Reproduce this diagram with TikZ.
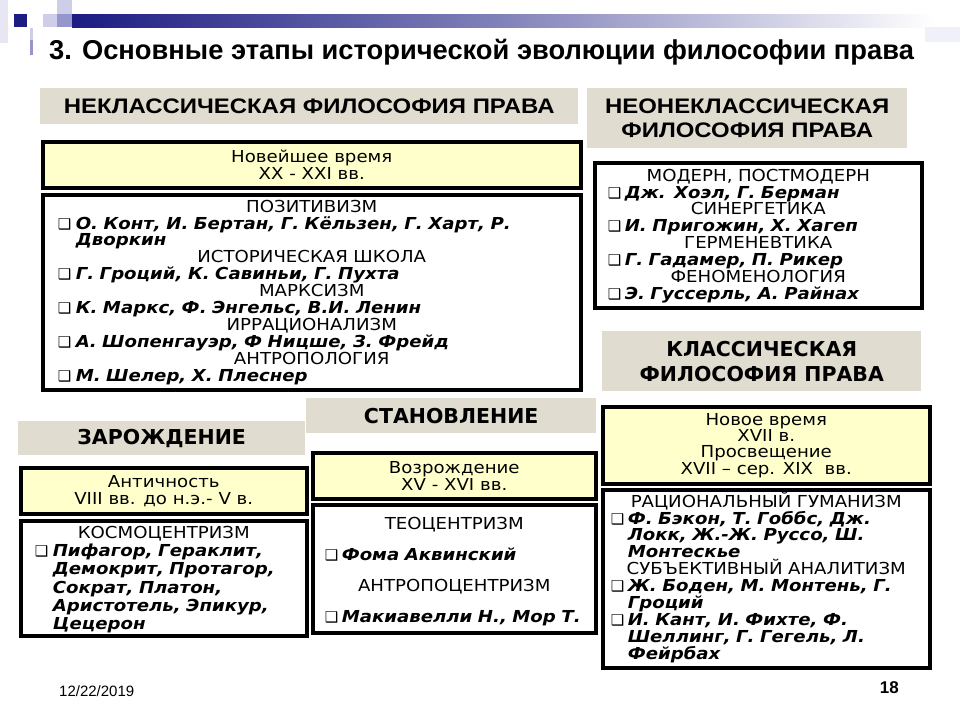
\documentclass[tikz,border=0pt]{standalone}
\usepackage{fontspec}
\setmainfont{DejaVu Sans}[FakeStretch=1.1]
\newfontfamily\arialfont{Liberation Sans}
\newfontfamily\headfont{Liberation Sans}[FakeStretch=1.14]
\newfontfamily\blackfont{DejaVu Sans}
\usetikzlibrary{positioning}
\definecolor{navy}{RGB}{28,28,130}
\definecolor{lavlight}{RGB}{206,206,232}
\definecolor{lavmid}{RGB}{150,150,204}
\definecolor{stone}{RGB}{224,220,208}
\definecolor{pale}{RGB}{255,255,204}
\newcommand\nl{\hfil\break}
\newcommand\bul{{\blackfont\fontsize{15}{13}\selectfont ❑}}
\newcommand\hdl[1]{\par{\centering\noindent #1\par}}
\newcommand\itm[2][18pt]{\par\hangindent=#1\hangafter=1\noindent\makebox[#1][l]{\bul}{\bfseries\itshape #2}\par}

\begin{document}
\begin{tikzpicture}[x=1pt,y=-1pt]
	\tikzstyle{every node}+=[inner sep=0pt]
	\tikzstyle{stonebox}=[fill=stone,anchor=north west,align=center,font=\headfont\bfseries\fontsize{21}{24}\selectfont]
	\tikzstyle{blackhead}=[stonebox,font=\blackfont\bfseries\fontsize{20.5}{25}\selectfont]
	\tikzstyle{yellowbox}=[draw,line width=3.5pt,fill=pale,anchor=north west,align=center,font=\fontsize{16.5}{17}\selectfont]
	\tikzstyle{listbox}=[draw,line width=3.5pt,fill=white,anchor=north west]
	\tikzstyle{listtext}=[anchor=north,align=left]
	\useasboundingbox (0,0) rectangle (960,720);
	\fill [lavlight!50] (0,0) rectangle (8,43);
	\fill [navy] (14,14) rectangle (27,27);
	\fill [lavlight] (43,14) rectangle (57,27);
	\fill [lavlight] (57,0) rectangle (72,14);
	\fill [lavmid] (57,14) rectangle (72,27);
	\fill [lavlight] (30,28) rectangle (33,40);
	\fill [lavmid] (30,40) rectangle (33,55);
	\shade [left color=navy,right color=white,middle color=navy!55!white] (72,14) rectangle (935,27);
	\fill [lavlight!30] (925,27) rectangle (960,42);
	\node [anchor=west,font=\arialfont\bfseries\fontsize{27.3}{30}\selectfont] (title) at (49,52) {3. Основные этапы исторической эволюции философии права};
	\node [stonebox,minimum width=538pt,minimum height=36pt] (neklHead) at (40,88) {НЕКЛАССИЧЕСКАЯ ФИЛОСОФИЯ ПРАВА};
	\node [stonebox,minimum width=320pt,minimum height=60pt] (neoHead) at (587,88) {НЕОНЕКЛАССИЧЕСКАЯ\\ФИЛОСОФИЯ ПРАВА};
	\node [yellowbox,minimum width=538pt,minimum height=46pt] (newYellow) at (41,140) {Новейшее время\\XX - XXI вв.};
	\node [listbox,minimum width=538pt,minimum height=195pt] (neklList) at (41,193) {};
	\node [listtext,text width=508pt,font=\fontsize{16.5}{16.9}\selectfont,below=2pt of neklList.north] (neklText) {%
		\hdl{ПОЗИТИВИЗМ}
		\itm{О. Конт, И. Бертан, Г. Кёльзен, Г. Харт, Р.\nl Дворкин}
		\hdl{ИСТОРИЧЕСКАЯ ШКОЛА}
		\itm{Г. Гроций, К. Савиньи, Г. Пухта}
		\hdl{МАРКСИЗМ}
		\itm{К. Маркс, Ф. Энгельс, В.И. Ленин}
		\hdl{ИРРАЦИОНАЛИЗМ}
		\itm{А. Шопенгауэр, Ф Ницше, З. Фрейд}
		\hdl{АНТРОПОЛОГИЯ}
		\itm{М. Шелер, Х. Плеснер}};
	\node [listbox,minimum width=327pt,minimum height=145pt] (neoList) at (593,161) {};
	\node [listtext,text width=301pt,font=\fontsize{16.5}{16.9}\selectfont,below=3pt of neoList.north] (neoText) {%
		\hdl{МОДЕРН, ПОСТМОДЕРН}
		\itm[17pt]{Дж. Хоэл, Г. Берман}
		\hdl{СИНЕРГЕТИКА}
		\itm[17pt]{И. Пригожин, Х. Хагеп}
		\hdl{ГЕРМЕНЕВТИКА}
		\itm[17pt]{Г. Гадамер, П. Рикер}
		\hdl{ФЕНОМЕНОЛОГИЯ}
		\itm[17pt]{Э. Гуссерль, А. Райнах}};
	\node [blackhead,minimum width=319pt,minimum height=60pt] (classHead) at (602,331) {КЛАССИЧЕСКАЯ\\ФИЛОСОФИЯ ПРАВА};
	\node [blackhead,minimum width=290pt,minimum height=35pt] (stanHead) at (306,398) {СТАНОВЛЕНИЕ};
	\node [blackhead,minimum width=287pt,minimum height=34pt] (zarHead) at (18,421) {ЗАРОЖДЕНИЕ};
	\node [yellowbox,minimum width=286pt,minimum height=46pt] (antYellow) at (19,466) {Античность\\VIII вв. до н.э.- V в.};
	\node [listbox,minimum width=286pt,minimum height=115pt] (kosmList) at (19,519) {};
	\node [listtext,text width=258pt,font=\fontsize{16.5}{18.2}\selectfont,below=1pt of kosmList.north] (kosmText) {%
		\hdl{КОСМОЦЕНТРИЗМ}
		\itm{Пифагор, Гераклит,\nl Демокрит, Протагор,\nl Сократ, Платон,\nl Аристотель, Эпикур,\nl Цецерон}};
	\node [yellowbox,minimum width=283pt,minimum height=46pt] (vozYellow) at (311,451) {Возрождение\\XV - XVI вв.};
	\node [listbox,minimum width=283pt,minimum height=128pt] (teoList) at (311,503) {};
	\node [listtext,text width=259pt,font=\fontsize{16.5}{31}\selectfont,below=-5pt of teoList.north] (teoText) {%
		\hdl{ТЕОЦЕНТРИЗМ}
		\itm[17pt]{Фома Аквинский}
		\hdl{АНТРОПОЦЕНТРИЗМ}
		\itm[17pt]{Макиавелли Н., Мор Т.}};
	\node [yellowbox,minimum width=327pt,minimum height=77pt,font=\fontsize{16.5}{16.3}\selectfont] (novYellow) at (601,405) {Новое время\\XVII в.\\Просвещение\\XVII – сер. XIX~~вв.};
	\node [listbox,minimum width=327pt,minimum height=178pt] (ratList) at (601,488) {};
	\node [listtext,text width=311pt,font=\fontsize{16.5}{16.9}\selectfont,below=2pt of ratList.north] (ratText) {%
		\hdl{РАЦИОНАЛЬНЫЙ ГУМАНИЗМ}
		\itm[17pt]{Ф. Бэкон, Т. Гоббс, Дж.\nl Локк, Ж.-Ж. Руссо, Ш.\nl Монтескье}
		\hdl{СУБЪЕКТИВНЫЙ АНАЛИТИЗМ}
		\itm[17pt]{Ж. Боден, М. Монтень, Г.\nl Гроций}
		\itm[17pt]{И. Кант, И. Фихте, Ф.\nl Шеллинг, Г. Гегель, Л.\nl Фейрбах}};
	\node [anchor=west,font=\arialfont\fontsize{15}{17}\selectfont] (date) at (59,691) {12/22/2019};
	\node [anchor=east,font=\arialfont\bfseries\fontsize{17}{19}\selectfont] (page) at (899,688) {18};
\end{tikzpicture}
\end{document}
